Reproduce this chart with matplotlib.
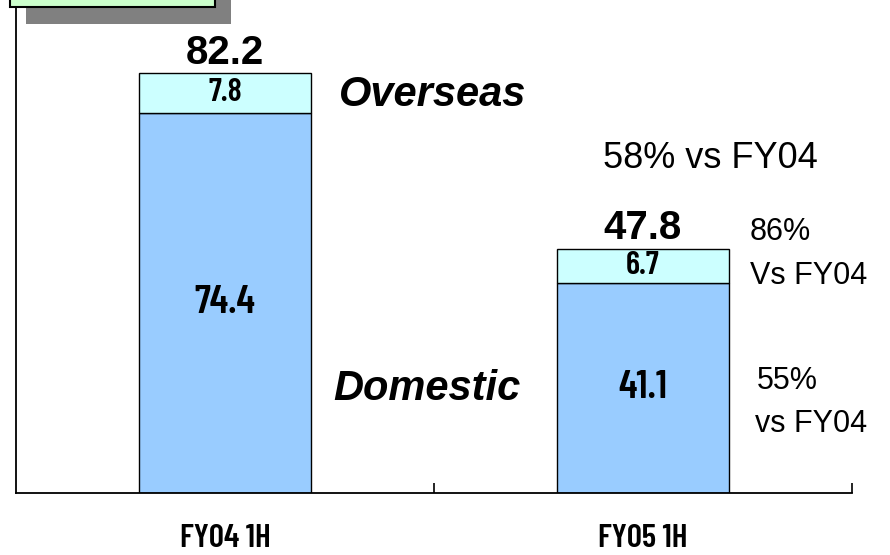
import matplotlib
matplotlib.use('Agg')
import matplotlib.pyplot as plt
from matplotlib import font_manager
from matplotlib.patches import Rectangle

periods = ['FY04 1H', 'FY05 1H']
domestic = [74.4, 41.1]
overseas = [7.8, 6.7]
totals = [82.2, 47.8]
notes_mid = '58% vs FY04'
notes_overseas = ['86%', 'Vs FY04']
notes_domestic = ['55%', 'vs FY04']

# narrow gothic-like face for the numbers inside the bars, if present
names = set(f.name for f in font_manager.fontManager.ttflist)
if 'Barlow Condensed' in names:
    NARROW = dict(family=['Barlow Condensed', 'DejaVu Sans'], fontweight=600)
    nscale = 1.0
else:
    NARROW = dict(family=['DejaVu Sans'], fontweight='bold')
    nscale = 0.72
SANS = ['Liberation Sans', 'DejaVu Sans']

fig = plt.figure(figsize=(8.9, 5.55), dpi=100)
ax = fig.add_axes([16/890, 62/555, 836/890, 493/555])

x = [0, 1]
w = 0.41
ax.bar(x, domestic, width=w, color='#99CCFF', edgecolor='black', linewidth=1.0)
ax.bar(x, overseas, width=w, bottom=domestic, color='#CCFFFF', edgecolor='black', linewidth=1.0)

ax.set_xlim(-0.5, 1.5)
ax.set_ylim(0, 96.5)

for s in ['top', 'right']:
    ax.spines[s].set_visible(False)
ax.spines['left'].set_linewidth(1.3)
ax.spines['bottom'].set_linewidth(1.3)
ax.set_yticks([])

ax.set_xticks([0.5, 1.5])
ax.set_xticklabels([])
ax.tick_params(axis='x', which='major', direction='in', length=7, width=1.2)
ax.set_xticks(x, minor=True)
ax.set_xticklabels(periods, minor=True, fontsize=24*nscale, **NARROW)
ax.tick_params(axis='x', which='minor', length=0, pad=22)

for i in range(2):
    ax.text(x[i], domestic[i]/2, f'{domestic[i]:.1f}', ha='center', va='center',
            fontsize=29*nscale, **NARROW)
    ax.text(x[i], domestic[i] + overseas[i]/2, f'{overseas[i]:.1f}', ha='center', va='center',
            fontsize=23.5*nscale, **NARROW)
    ax.annotate(f'{totals[i]:.1f}', (x[i], totals[i]), xytext=(0, 1), textcoords='offset points',
                ha='center', va='bottom', fontsize=29, fontweight='bold', family=SANS)

ax.text(0.273, 77.9, 'Overseas', ha='left', va='center', fontsize=30,
        fontweight='bold', style='italic', family=SANS)
ax.text(0.258, 20.4, 'Domestic', ha='left', va='center', fontsize=30,
        fontweight='bold', style='italic', family=SANS)
ax.text(0.904, 65.4, notes_mid, ha='left', va='center', fontsize=26, family=SANS)
ax.text(1.256, 51.1, notes_overseas[0], ha='left', va='center', fontsize=22, family=SANS)
ax.text(1.256, 42.5, notes_overseas[1], ha='left', va='center', fontsize=22, family=SANS)
ax.text(1.273, 21.9, notes_domestic[0], ha='left', va='center', fontsize=22, family=SANS)
ax.text(1.268, 13.5, notes_domestic[1], ha='left', va='center', fontsize=22, family=SANS)

# title box cut off at the top left, with its drop shadow
fig.patches.append(Rectangle((26/890, 1 - 24/555), 205/890, 40/555, transform=fig.transFigure,
                             facecolor='#808080', edgecolor='none', zorder=2))
fig.patches.append(Rectangle((10/890, 1 - 7/555), 205/890, 40/555, transform=fig.transFigure,
                             facecolor='#CCFFCC', edgecolor='black', linewidth=1.5, zorder=3))

fig.savefig('out.png', dpi=100)
